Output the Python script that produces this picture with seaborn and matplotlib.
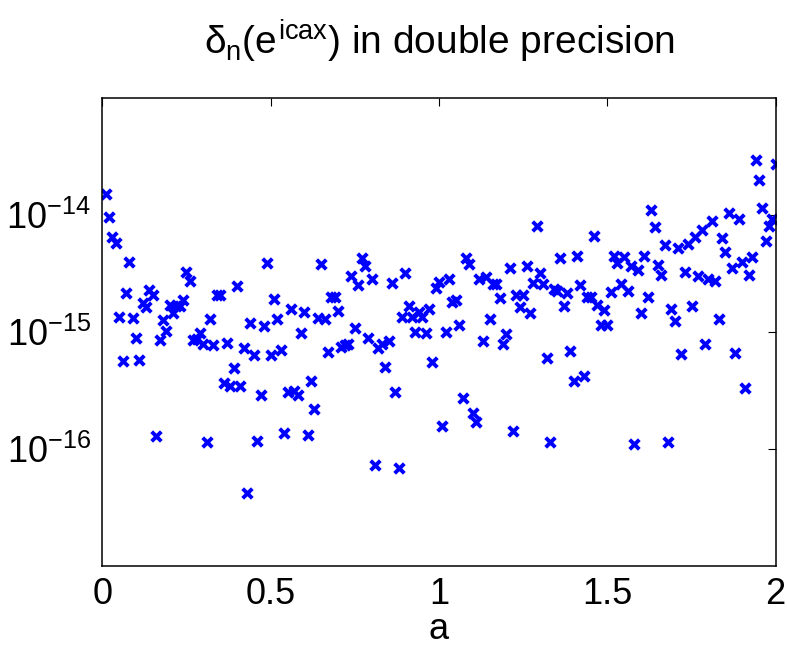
import numpy as np
import pandas as pd
import matplotlib
matplotlib.use('Agg')
import matplotlib.pyplot as plt
import seaborn as sns

# ── data: a = 0.01 ... 2.00, log10 of delta_n ──────────────────────────────
a_idx = list(range(1, 201))
log_delta = [
    -13.82, -14.02, -14.19, -14.24, -14.87, -15.25, -14.67, -14.40, -14.88, -15.05,
    -15.24, -14.75, -14.79, -14.64, -14.68, -15.89, -15.07, -14.90, -14.99, -14.77,
    -14.84, -14.78, -14.78, -14.73, -14.49, -14.56, -15.07, -15.06, -15.01, -15.10,
    -15.94, -14.89, -15.11, -14.68, -14.68, -15.44, -15.09, -15.46, -15.31, -14.61,
    -15.46, -15.14, -16.38, -14.92, -15.20, -15.93, -15.54, -14.95, -14.41, -15.20,
    -14.72, -14.89, -15.15, -15.86, -15.51, -14.80, -15.50, -15.54, -15.01, -14.83,
    -15.88, -15.42, -15.66, -14.88, -14.42, -14.89, -15.17, -14.70, -14.70, -14.82,
    -15.13, -15.11, -15.10, -14.52, -14.97, -14.60, -14.37, -14.44, -15.05, -14.55,
    -16.14, -15.14, -15.10, -15.30, -15.08, -14.58, -15.51, -16.16, -14.87, -14.50,
    -14.78, -14.87, -15.00, -14.83, -14.87, -15.01, -14.80, -15.26, -14.62, -14.57,
    -15.80, -15.00, -14.55, -14.74, -14.73, -14.94, -15.56, -14.37, -14.42, -15.69,
    -15.77, -14.55, -15.08, -14.53, -14.89, -14.59, -14.59, -14.71, -15.10, -15.02,
    -14.45, -15.85, -14.68, -14.79, -14.68, -14.44, -14.84, -14.58, -14.09, -14.50,
    -14.59, -15.22, -15.94, -14.63, -14.65, -14.37, -14.78, -14.67, -15.16, -15.42,
    -14.35, -14.60, -15.38, -14.70, -14.70, -14.18, -14.77, -14.94, -14.81, -14.94,
    -14.66, -14.35, -14.41, -14.59, -14.36, -14.65, -14.44, -15.96, -14.47, -14.84,
    -14.35, -14.70, -13.96, -14.10, -14.43, -14.51, -14.26, -15.94, -14.80, -14.91,
    -14.28, -15.19, -14.49, -14.25, -14.78, -14.19, -14.52, -14.13, -15.10, -14.55,
    -14.05, -14.56, -14.89, -14.20, -14.32, -13.98, -14.45, -15.18, -14.03, -14.40,
    -15.48, -14.51, -14.36, -13.53, -13.70, -13.94, -14.22, -14.09, -14.03, -13.56,
]
x_ticks = [0, 0.5, 1, 1.5, 2]
x_tick_labels = ['0', '0.5', '1', '1.5', '2']
y_ticks = [1e-16, 1e-15, 1e-14]
y_tick_labels = [r'$10^{-16}$', r'$10^{-15}$', r'$10^{-14}$']

df = pd.DataFrame({
    'a': np.array(a_idx) / 100.0,
    'delta': 10.0 ** np.array(log_delta),
})

# ── style ────────────────────────────────────────────────────────────────────
sns.set_style('white')
plt.rcParams['font.family'] = ['Liberation Sans', 'DejaVu Sans']
plt.rcParams['mathtext.fontset'] = 'custom'
plt.rcParams['mathtext.rm'] = 'Liberation Sans'
plt.rcParams['mathtext.it'] = 'Liberation Sans'
plt.rcParams['mathtext.bf'] = 'Liberation Sans:bold'
plt.rcParams['text.color'] = 'black'
plt.rcParams['axes.labelcolor'] = 'black'

fig = plt.figure(figsize=(7.87, 6.48), dpi=100)
ax = fig.add_axes([0.130, 0.1265, 0.8557, 0.7223])

sns.scatterplot(
    data=df, x='a', y='delta', ax=ax,
    marker='x', color='#0000ff', s=48, linewidth=2.8,
    legend=False,
)

ax.set_yscale('log')
ax.set_xlim(0, 2)
ax.set_ylim(1e-17, 1e-13)
ax.set_xticks(x_ticks)
ax.set_xticklabels(x_tick_labels)
ax.set_yticks(y_ticks)
ax.set_yticklabels(y_tick_labels)
ax.minorticks_off()
ax.tick_params(axis='both', which='major', direction='in', length=6, width=0.8,
               top=True, right=True, labelsize=26, pad=8, colors='black')

for sp in ax.spines.values():
    sp.set_visible(True)
    sp.set_color('black')
    sp.set_linewidth(1.1)

ax.set_xlabel('a', fontsize=26, labelpad=0, color='black')
ax.set_ylabel('')
ax.set_title(r'$\delta_{n}(e^{icax})$ in double precision', fontsize=28,
             pad=31, color='black')

fig.savefig('out.png', dpi=100)
plt.close(fig)
